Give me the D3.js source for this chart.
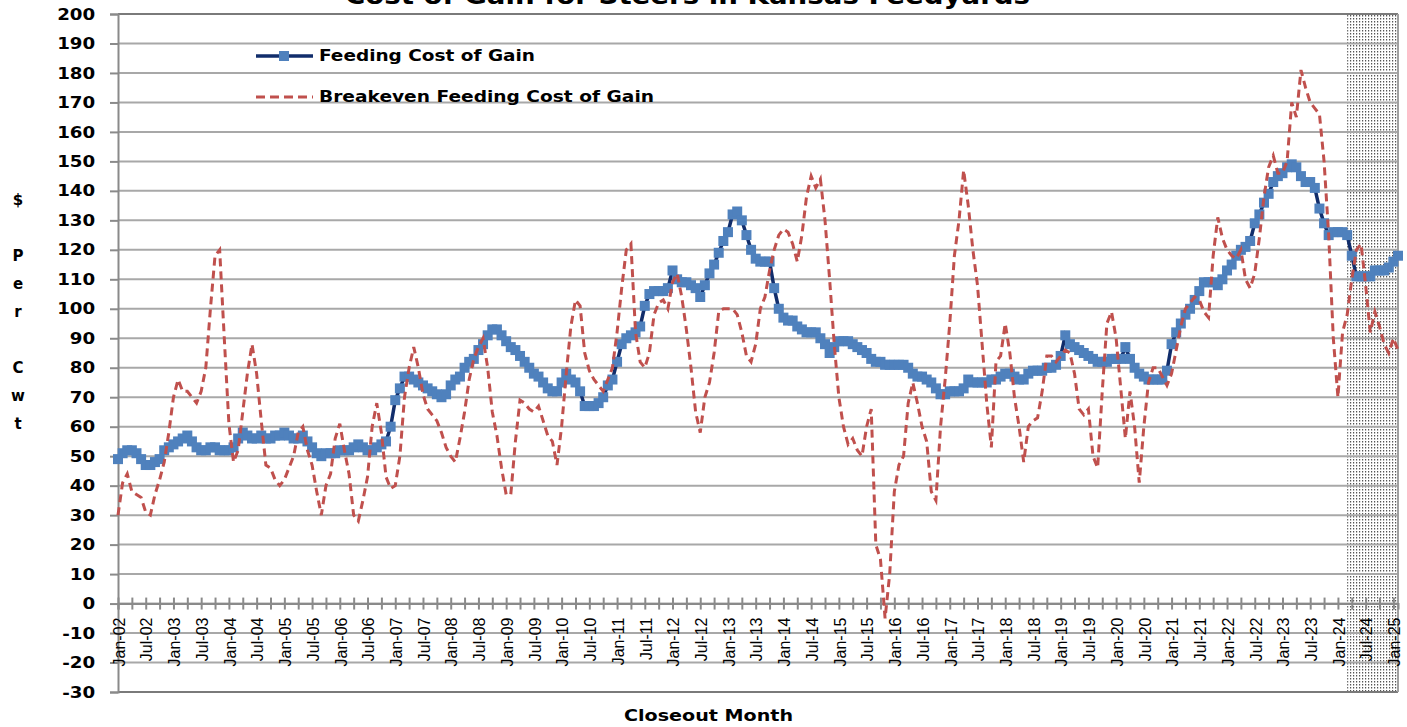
<!DOCTYPE html>
<html lang="en">
<head>
<meta charset="UTF-8">
<title>Cost of Gain for Steers in Kansas Feedyards</title>
<script src="https://cdn.jsdelivr.net/npm/d3@7"></script>
<style>
    body { margin: 0; background: #fff; }
    svg { display: block; }
</style>
</head>
<body>
<script>
    // first closeout month, months after that follow one by one
    var startMonth = new Date(2002, 0, 1);
    var shadeFrom = "Mar-24";          // projected months, hatched
    var yTicks = d3.range(-30, 201, 10);
    var yTitleLines = ["$", "", "P", "e", "r", "", "C", "w", "t"];

    // Feeding Cost of Gain ($/cwt), one row per year
    var feedingCost = [
        49, 51, 52, 52, 51, 49, 47, 47, 48, 49, 52, 53,
        54, 55, 56, 57, 55, 53, 52, 52, 53, 53, 52, 52,
        52, 53, 56, 58, 57, 56, 56, 57, 56, 56, 57, 57,
        58, 57, 56, 56, 57, 55, 53, 51, 50, 51, 51, 51,
        52, 52, 52, 53, 54, 53, 52, 52, 53, 54, 55, 60,
        69, 73, 77, 77, 76, 75, 74, 73, 72, 71, 70, 71,
        74, 76, 77, 80, 82, 83, 86, 88, 91, 93, 93, 91,
        89, 87, 86, 84, 82, 80, 78, 77, 75, 73, 72, 72,
        75, 78, 76, 75, 72, 67, 67, 67, 68, 70, 74, 76,
        82, 88, 90, 91, 92, 94, 101, 105, 106, 106, 106, 107,
        113, 110, 109, 109, 108, 107, 104, 108, 112, 115, 119, 123,
        126, 132, 133, 130, 125, 120, 117, 116, 116, 116, 107, 100,
        97, 96, 96, 94, 93, 92, 92, 92, 90, 88, 85, 87,
        89, 89, 89, 88, 87, 86, 85, 83, 82, 82, 81, 81,
        81, 81, 81, 80, 78, 77, 77, 76, 75, 73, 71, 71,
        72, 72, 72, 73, 76, 75, 75, 75, 75, 76, 76, 77,
        78, 78, 77, 76, 76, 78, 79, 79, 79, 80, 80, 81,
        84, 91, 88, 87, 86, 85, 84, 83, 82, 82, 82, 83,
        83, 83, 87, 83, 80, 78, 77, 76, 76, 76, 76, 79,
        88, 92, 95, 98, 100, 103, 106, 109, 109, 109, 108, 110,
        113, 115, 118, 120, 121, 123, 129, 132, 136, 139, 143, 145,
        146, 148, 149, 148, 145, 143, 143, 141, 134, 129, 125, 126,
        126, 126, 125, 118, 111, 111, 111, 111, 113, 113, 113, 114,
        116, 118
    ];

    // Breakeven Feeding Cost of Gain ($/cwt)
    var breakeven = [
        30, 41, 44, 38, 37, 36, 31, 30, 37, 42, 48, 58,
        70, 76, 72, 72, 70, 68, 72, 80, 100, 118, 120, 90,
        61, 48, 52, 65, 78, 88, 78, 62, 47, 46, 42, 40,
        42, 46, 50, 58, 60, 52, 47, 38, 30, 40, 44, 56,
        61, 52, 44, 30, 28, 35, 43, 60, 68, 58, 43, 39,
        40, 50, 70, 80, 87, 80, 71, 66, 64, 62, 58, 53,
        50, 48, 56, 65, 76, 83, 87, 90, 80, 65, 57, 46,
        37, 37, 55, 69, 68, 66, 65, 67, 62, 57, 55, 47,
        60, 78, 94, 103, 101, 85, 79, 76, 74, 72, 76, 80,
        92, 107, 120, 122, 92, 82, 80, 85, 98, 102, 103, 100,
        109, 112, 104, 93, 80, 65, 58, 70, 75, 85, 99, 100,
        100, 100, 98, 92, 84, 82, 88, 100, 104, 113, 120, 125,
        127, 126, 122, 116, 125, 138, 145, 141, 144, 130, 110, 88,
        70, 60, 54, 56, 52, 50, 60, 66, 20, 15, -5, 10,
        38, 47, 50, 68, 75, 68, 60, 55, 38, 35, 60, 76,
        95, 118, 130, 147, 135, 120, 108, 88, 68, 53, 82, 84,
        95, 85, 70, 60, 48, 60, 62, 63, 72, 84, 84, 82,
        84, 86, 85, 78, 66, 64, 66, 50, 46, 72, 95, 99,
        90, 73, 56, 72, 60, 41, 60, 75, 80, 80, 77, 74,
        78, 86, 94, 100, 102, 104, 103, 99, 97, 118, 131, 124,
        120, 118, 117, 120, 110, 107, 112, 124, 138, 148, 152, 146,
        146, 150, 170, 165, 181, 175, 170, 168, 166, 150, 125, 90,
        70, 92, 98, 110, 120, 122, 108, 92, 99, 94, 88, 85,
        90, 86
    ];

    var fmt = d3.timeFormat("%b-%y");
    var months = d3.timeMonth.range(startMonth, d3.timeMonth.offset(startMonth, feedingCost.length)).map(fmt);

    var width = 1407, height = 727;
    var plot = {left: 118, right: 1398, top: 14, bottom: 692};

    var svg = d3.select("body").append("svg")
            .attr("width", width).attr("height", height)
            .style("font-family", "'DejaVu Sans', sans-serif");

    var x = d3.scalePoint().domain(months).range([plot.left, plot.right]);
    var y = d3.scaleLinear().domain([-30, 200]).range([plot.bottom, plot.top]);

    /* hatched area for the last months */
    var pat = svg.append("defs").append("pattern")
            .attr("id", "dots").attr("patternUnits", "userSpaceOnUse")
            .attr("width", 3).attr("height", 3);
    pat.append("rect").attr("width", 3).attr("height", 3).attr("fill", "#fff");
    pat.append("rect").attr("width", 1.2).attr("height", 1.5).attr("fill", "#555");

    svg.append("rect")
            .attr("x", x(shadeFrom)).attr("y", plot.top)
            .attr("width", plot.right - x(shadeFrom)).attr("height", plot.bottom - plot.top)
            .attr("fill", "url(#dots)");

    /* gridlines */
    svg.append("g").selectAll("line")
            .data(yTicks)
            .enter().append("line")
            .attr("x1", plot.left).attr("x2", plot.right)
            .attr("y1", function(d){ return y(d); })
            .attr("y2", function(d){ return y(d); })
            .attr("stroke", function(d){ return (d == 200 || d == -30) ? "#7a7a7a" : "#a8a8a8"; })
            .attr("stroke-width", 2);

    svg.append("line")
            .attr("x1", plot.right).attr("x2", plot.right)
            .attr("y1", plot.top).attr("y2", plot.bottom)
            .attr("stroke", "#a0a0a0").attr("stroke-width", 2);

    /* y axis, plain hyphen for negatives */
    var yAxis = svg.append("g")
            .attr("transform", "translate(" + plot.left + ",0)")
            .call(d3.axisLeft(y).tickValues(yTicks).tickSize(8).tickPadding(0)
                    .tickFormat(function(d){ return String(d); }));
    yAxis.select(".domain").attr("stroke", "#8a8a8a").attr("stroke-width", 2);
    yAxis.selectAll(".tick line").attr("stroke", "#8a8a8a").attr("stroke-width", 2);
    yAxis.selectAll(".tick text")
            .attr("x", -20).attr("fill", "#000")
            .attr("font-size", 16).attr("font-weight", "bold")
            .attr("font-family", "'DejaVu Sans', sans-serif")
            .attr("transform", "scale(1.14,1)");

    /* x axis at zero, ticks every 3 months crossing the line */
    var xTicks = months.filter(function(d, i){ return i % 3 == 0; });
    var xAxis = svg.append("g")
            .attr("transform", "translate(0," + y(0) + ")")
            .call(d3.axisBottom(x).tickValues(xTicks).tickSize(6).tickFormat(""));
    xAxis.select(".domain").attr("stroke", "#8a8a8a").attr("stroke-width", 2);
    xAxis.selectAll(".tick line").attr("y1", -6).attr("stroke", "#8a8a8a").attr("stroke-width", 2);

    svg.append("g").selectAll("text")
            .data(months.filter(function(d, i){ return i % 6 == 0; }))
            .enter().append("text")
            .attr("transform", function(d){ return "translate(" + (x(d) + 1) + "," + (y(0) + 14) + ") rotate(-90)"; })
            .attr("text-anchor", "end").attr("dy", "0.36em")
            .attr("font-family", "'Liberation Sans', Arial, sans-serif")
            .attr("font-size", 16)
            .text(function(d){ return d; });

    /* series */
    var seriesLine = d3.line()
            .x(function(d, i){ return x(months[i]); })
            .y(function(d){ return y(d); });

    svg.append("path")
            .datum(feedingCost)
            .attr("d", seriesLine)
            .attr("fill", "none").attr("stroke", "#112d6b").attr("stroke-width", 3.5);

    svg.append("g").selectAll("rect")
            .data(feedingCost)
            .enter().append("rect")
            .attr("x", function(d, i){ return x(months[i]) - 5; })
            .attr("y", function(d){ return y(d) - 5; })
            .attr("width", 10).attr("height", 10)
            .attr("fill", "#4f81bd");

    svg.append("path")
            .datum(breakeven)
            .attr("d", seriesLine)
            .attr("fill", "none").attr("stroke", "#c0504d")
            .attr("stroke-width", 3).attr("stroke-dasharray", "8,5");

    /* legend */
    var legend = svg.append("g");
    legend.append("line")
            .attr("x1", 256).attr("x2", 313).attr("y1", 56).attr("y2", 56)
            .attr("stroke", "#112d6b").attr("stroke-width", 3.5);
    legend.append("rect")
            .attr("x", 279).attr("y", 51).attr("width", 10).attr("height", 10)
            .attr("fill", "#4f81bd");
    legend.append("line")
            .attr("x1", 256).attr("x2", 313).attr("y1", 97).attr("y2", 97)
            .attr("stroke", "#c0504d").attr("stroke-width", 3).attr("stroke-dasharray", "9,5");
    legend.append("text")
            .attr("x", 319).attr("y", 56).attr("dy", "0.35em")
            .attr("font-size", 15).attr("font-weight", "bold")
            .attr("textLength", 216).attr("lengthAdjust", "spacingAndGlyphs")
            .text("Feeding Cost of Gain");
    legend.append("text")
            .attr("x", 319).attr("y", 97).attr("dy", "0.35em")
            .attr("font-size", 15).attr("font-weight", "bold")
            .attr("textLength", 335).attr("lengthAdjust", "spacingAndGlyphs")
            .text("Breakeven Feeding Cost of Gain");

    /* titles (the chart title sits mostly above the picture, as in the source) */
    svg.append("text")
            .attr("x", 345).attr("y", 4)
            .attr("font-size", 25).attr("font-weight", "bold")
            .attr("textLength", 685).attr("lengthAdjust", "spacingAndGlyphs")
            .text("Cost of Gain for Steers in Kansas Feedyards");

    svg.append("text")
            .attr("x", 624).attr("y", 721)
            .attr("font-size", 15).attr("font-weight", "bold")
            .attr("textLength", 169).attr("lengthAdjust", "spacingAndGlyphs")
            .text("Closeout Month");

    svg.append("g").selectAll("text")
            .data(yTitleLines)
            .enter().append("text")
            .attr("x", 18).attr("y", function(d, i){ return 200 + i * 28; })
            .attr("dy", "0.35em").attr("text-anchor", "middle")
            .attr("font-size", 15).attr("font-weight", "bold")
            .text(function(d){ return d; });
</script>
</body>
</html>
